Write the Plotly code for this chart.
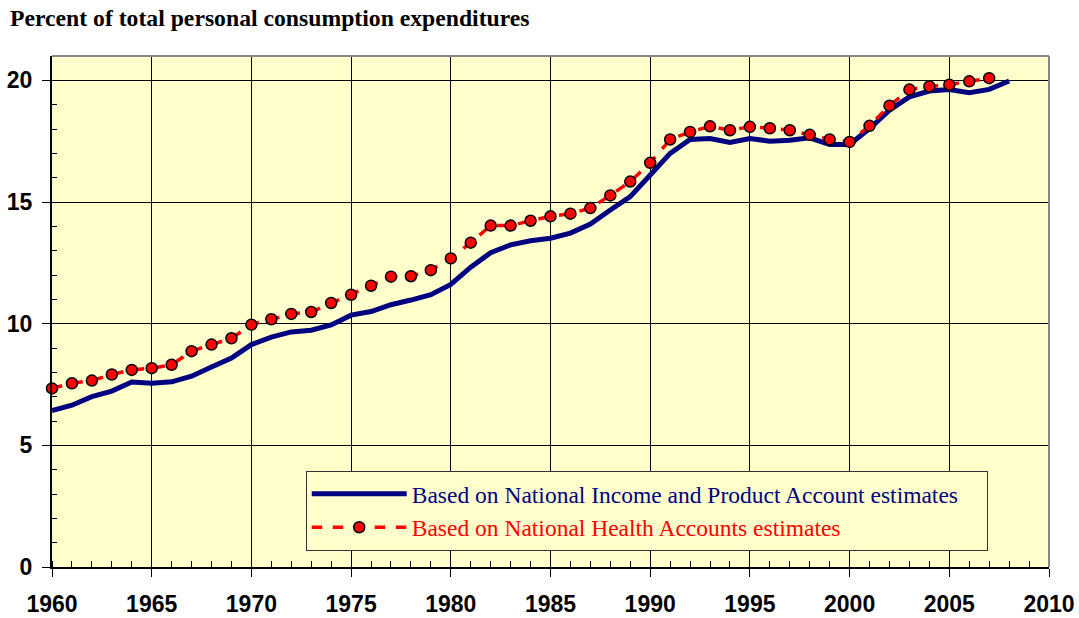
import plotly.graph_objects as go

years_nipa = list(range(1960, 2009))
nipa = [6.43, 6.65, 7.00, 7.23, 7.60, 7.55, 7.61, 7.84, 8.22, 8.59,
        9.14, 9.45, 9.66, 9.73, 9.95, 10.35, 10.50, 10.78, 10.97, 11.19,
        11.61, 12.32, 12.92, 13.24, 13.41, 13.51, 13.72, 14.09, 14.67, 15.22,
        16.11, 17.00, 17.57, 17.61, 17.45, 17.61, 17.50, 17.54, 17.64, 17.36,
        17.36, 18.02, 18.77, 19.32, 19.56, 19.62, 19.49, 19.63, 19.97]

years_nha = list(range(1960, 2008))
nha = [7.34, 7.55, 7.66, 7.91, 8.10, 8.17, 8.31, 8.87, 9.14, 9.40,
       9.96, 10.18, 10.40, 10.48, 10.85, 11.19, 11.56, 11.93, 11.95, 12.20,
       12.68, 13.33, 14.03, 14.03, 14.23, 14.41, 14.52, 14.75, 15.27, 15.84,
       16.61, 17.57, 17.88, 18.11, 17.95, 18.09, 18.03, 17.95, 17.76, 17.57,
       17.47, 18.13, 18.96, 19.62, 19.75, 19.82, 19.96, 20.09]

x_ticks = list(range(1960, 2011, 5))
y_ticks = [0, 5, 10, 15, 20]

title_text = "Percent of total personal consumption expenditures"
name_nipa = "Based on National Income and Product Account estimates"
name_nha = "Based on National Health Accounts estimates"

fig = go.Figure()
fig.add_trace(go.Scatter(
    x=years_nipa, y=nipa, mode="lines",
    name="<span style='color:#000080'>" + name_nipa + "</span>" + "&nbsp;" * 4,
    line=dict(color="#000080", width=5), legendgroup="a",
    cliponaxis=False))
fig.add_trace(go.Scatter(
    x=years_nha, y=nha, mode="lines+markers",
    name="<span style='color:#FF0000'>" + name_nha + "</span>",
    line=dict(color="#FF0000", width=3.5, dash="dash"),
    marker=dict(color="#FF0000", size=11, line=dict(color="black", width=1.5)),
    legendgroup="b", cliponaxis=False))

tick_font = dict(family="Liberation Sans", size=23, color="black", weight="bold")

fig.update_layout(
    width=1079, height=618,
    margin=dict(l=52, r=30, t=56, b=51, autoexpand=False),
    paper_bgcolor="white", plot_bgcolor="#FFFFCC",
    title=dict(text="<b>" + title_text + "</b>", xref="container", yref="container",
               x=10 / 1079, xanchor="left", y=1 - 18 / 618, yanchor="middle",
               pad=dict(l=0, r=0, t=0, b=0),
               font=dict(family="Liberation Serif", size=23.7, color="black")),
    showlegend=True,
    legend=dict(x=0.2545, y=0.188, xanchor="left", yanchor="top",
                bgcolor="#FFFFCC", bordercolor="#333333", borderwidth=1,
                font=dict(family="Liberation Serif", size=23.5),
                itemwidth=95, tracegroupgap=4, traceorder="normal"),
    xaxis=dict(range=[1960, 2010], tickvals=x_ticks, ticktext=[str(v) for v in x_ticks],
               automargin=False,
               showgrid=True, gridcolor="black", gridwidth=1,
               showline=True, linecolor="black", linewidth=2,
               ticks="outside", ticklen=8, tickcolor="black", tickwidth=1,
               ticklabelstandoff=7,
               tickfont=tick_font,
               minor=dict(dtick=1, ticks="inside", ticklen=6, tickcolor="black", showgrid=False),
               zeroline=False),
    yaxis=dict(range=[0, 21], tickvals=y_ticks, ticktext=[str(v) for v in y_ticks],
               automargin=False,
               showgrid=True, gridcolor="black", gridwidth=1,
               showline=True, linecolor="black", linewidth=2,
               ticks="outside", ticklen=8, tickcolor="black", tickwidth=1,
               ticklabelstandoff=5,
               tickfont=tick_font,
               minor=dict(dtick=1, ticks="inside", ticklen=5, tickcolor="black", showgrid=False),
               zeroline=False),
    shapes=[
        dict(type="line", xref="paper", yref="paper", x0=0, x1=1, y0=1, y1=1,
             line=dict(color="#888888", width=2), layer="above"),
        dict(type="line", xref="paper", yref="paper", x0=1, x1=1, y0=0, y1=1,
             line=dict(color="#888888", width=2), layer="above"),
    ],
)

fig.write_html("out.html", post_script="document.body.style.margin='0';",
               config={"displayModeBar": False})
